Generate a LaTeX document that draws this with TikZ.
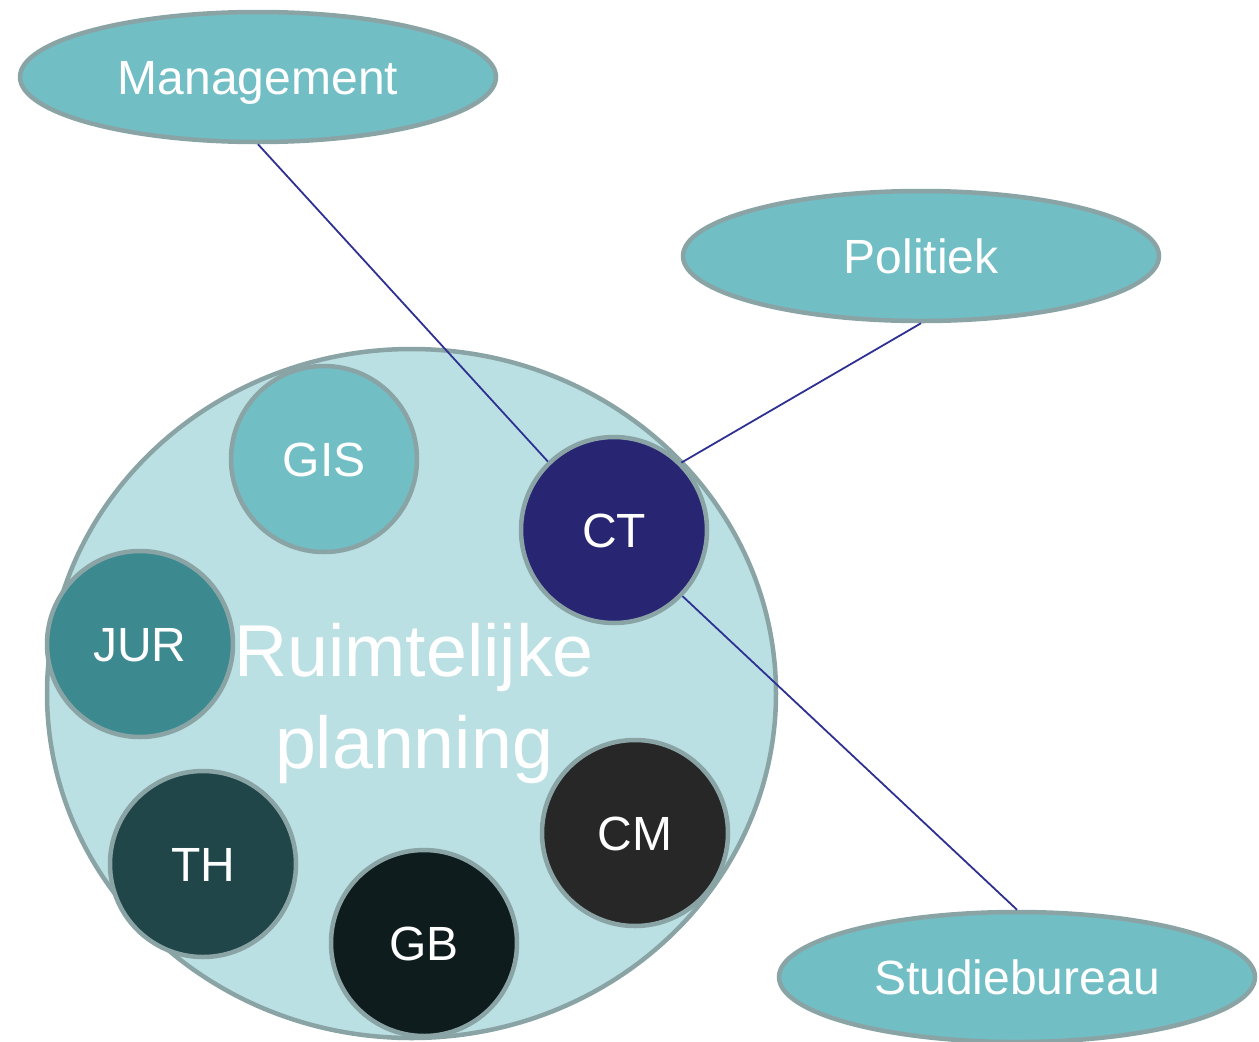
\documentclass[tikz,border=0pt]{standalone}
\usepackage{fontspec}
\setmainfont{Liberation Sans}
\usetikzlibrary{shapes.geometric}
\definecolor{ellfill}{HTML}{72BEC5}
\definecolor{bigfill}{HTML}{BAE0E3}
\definecolor{bordc}{HTML}{8AA4A6}
\definecolor{ctfill}{HTML}{282672}
\definecolor{jurfill}{HTML}{3C8A90}
\definecolor{thfill}{HTML}{204649}
\definecolor{gbfill}{HTML}{0F1C1D}
\definecolor{cmfill}{HTML}{272727}
\definecolor{linec}{HTML}{2E3192}
\begin{document}
\begin{tikzpicture}[x=1pt,y=1pt,
  bord/.style={draw=bordc, line width=4.5pt},
  lbl/.style={text=white, font=\fontsize{48}{58}\selectfont, text height=34pt, text depth=0pt},
  oval/.style={ellipse, bord, lbl, fill=ellfill, minimum width=476pt, minimum height=130pt, inner sep=0pt},
  disc/.style={circle, bord, lbl, minimum size=186pt, inner sep=0pt},
  link/.style={draw=linec, line width=1.8pt}]
\useasboundingbox (0,0) rectangle (1259,-1042);
% big circle
\node[ellipse, bord, fill=bigfill, minimum width=729pt, minimum height=689pt, inner sep=0pt] (rp) at (411.5,-693.5) {};
\node[text=white, align=center, inner sep=0pt, font=\fontsize{73.5}{92}\selectfont] (rptext) at (414,-703) {Ruimtelijke\\planning};
% outer ellipses
\node[oval] (mgmt) at (258,-77) {Management};
\node[oval] (pol) at (921,-256) {Politiek};
\node[oval] (stu) at (1017,-977) {Studiebureau};
% inner circles
\node[disc, fill=ellfill] (gis) at (324,-459) {GIS};
\node[disc, fill=jurfill] (jur) at (140,-644) {JUR};
\node[disc, fill=thfill] (th) at (203,-864) {TH};
\node[disc, fill=gbfill] (gb) at (424,-943) {GB};
\node[disc, fill=cmfill] (cm) at (635,-833) {CM};
\node[disc, fill=ctfill] (ct) at (614,-530) {CT};
% connectors
\draw[link] (mgmt.south) -- (ct.134);
\draw[link] (pol.south) -- (ct.45);
\draw[link] (stu.north) -- (ct.-44);
\end{tikzpicture}
\end{document}
